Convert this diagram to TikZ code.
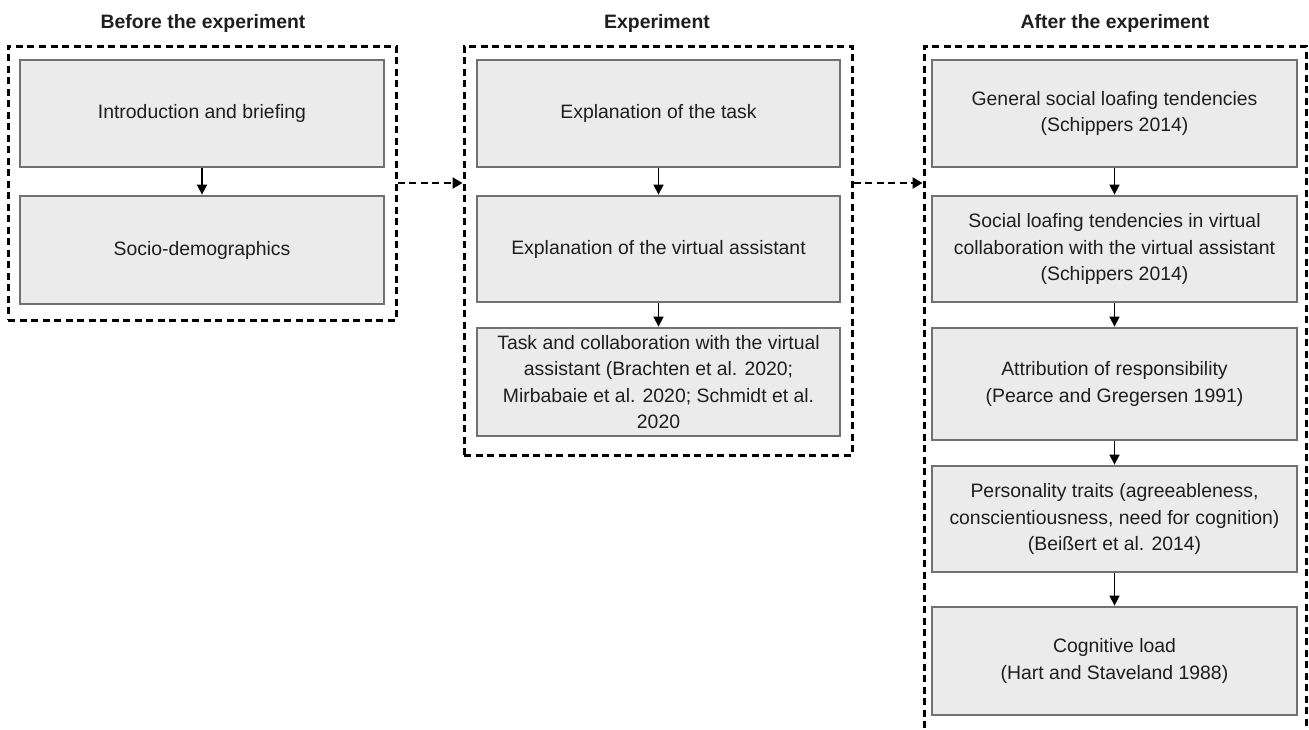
\documentclass[tikz,border=0pt]{standalone}
\usepackage{fontspec}
\setmainfont{Liberation Sans}
\usetikzlibrary{arrows.meta}
\definecolor{boxfill}{HTML}{EBEBEB}
\definecolor{boxline}{HTML}{717171}
\definecolor{txt}{HTML}{1E1E1E}
\tikzset{
  stepbox/.style={draw=boxline, line width=2.8pt, fill=boxfill, text=txt,
    align=center, inner sep=0pt, font=\fontsize{19.4}{26.6}\selectfont},
  frame/.style={draw=black, line width=3pt, dash pattern=on 7pt off 4.5pt},
  title/.style={font=\fontsize{19.4}{22}\selectfont\bfseries, text=txt},
  flow/.style={draw=black, line width=1.6pt, -{Triangle[width=10pt,length=10pt]}},
  dflow/.style={draw=black, line width=2.8pt, dash pattern=on 7pt off 4.5pt, -{Triangle[width=11pt,length=10pt]}}
}
\begin{document}
\begin{tikzpicture}[x=1pt,y=-1pt]
\useasboundingbox (0,0) rectangle (1309,729);
\clip (0,0) rectangle (1309,729);
\fill[white] (0,0) rectangle (1309,729);
% titles
\node[title] (tL) at (203,23) {Before the experiment};
\node[title] (tM) at (657,23) {Experiment};
\node[title] (tR) at (1115,23) {After the experiment};
% frames
\node[frame, minimum width=388pt, minimum height=274pt] (fL) at (202,183) {};
\node[frame, minimum width=388pt, minimum height=409pt] (fM) at (658,250.5) {};
\node[frame, minimum width=382pt, minimum height=700pt] (fR) at (1115,396) {};
% left boxes
\node[stepbox, minimum width=364pt, minimum height=107pt] (L1) at (202,113.5) {Introduction and briefing};
\node[stepbox, minimum width=364pt, minimum height=108pt] (L2) at (202,250) {Socio-demographics};
% middle boxes
\node[stepbox, minimum width=363pt, minimum height=107pt] (M1) at (658.5,113.5) {Explanation of the task};
\node[stepbox, minimum width=363pt, minimum height=106pt] (M2) at (658.5,249) {Explanation of the virtual assistant};
\node[stepbox, minimum width=363pt, minimum height=108pt] (M3) at (658.5,382) {Task and collaboration with the virtual\\assistant (Brachten et al. 2020;\\Mirbabaie et al. 2020; Schmidt et al.\\2020};
% right boxes
\node[stepbox, minimum width=365pt, minimum height=107pt] (R1) at (1114.5,113.5) {General social loafing tendencies\\(Schippers 2014)};
\node[stepbox, minimum width=365pt, minimum height=106pt] (R2) at (1114.5,249) {Social loafing tendencies in virtual\\collaboration with the virtual assistant\\(Schippers 2014)};
\node[stepbox, minimum width=365pt, minimum height=112pt] (R3) at (1114.5,384) {Attribution of responsibility\\(Pearce and Gregersen 1991)};
\node[stepbox, minimum width=365pt, minimum height=106pt] (R4) at (1114.5,519) {Personality traits (agreeableness,\\conscientiousness, need for cognition)\\(Beißert et al. 2014)};
\node[stepbox, minimum width=365pt, minimum height=108pt] (R5) at (1114.5,661) {Cognitive load\\(Hart and Staveland 1988)};
% arrows
\draw[flow] (L1) -- (L2);
\draw[flow] (M1) -- (M2);
\draw[flow] (M2) -- (M3);
\draw[flow] (R1) -- (R2);
\draw[flow] (R2) -- (R3);
\draw[flow] (R3) -- (R4);
\draw[flow] (R4) -- (R5);
\draw[dflow] (fL.east) -- (fL.east -| fM.west);
\draw[dflow] (fL.east -| fM.east) -- (fL.east -| fR.west);
\end{tikzpicture}
\end{document}
